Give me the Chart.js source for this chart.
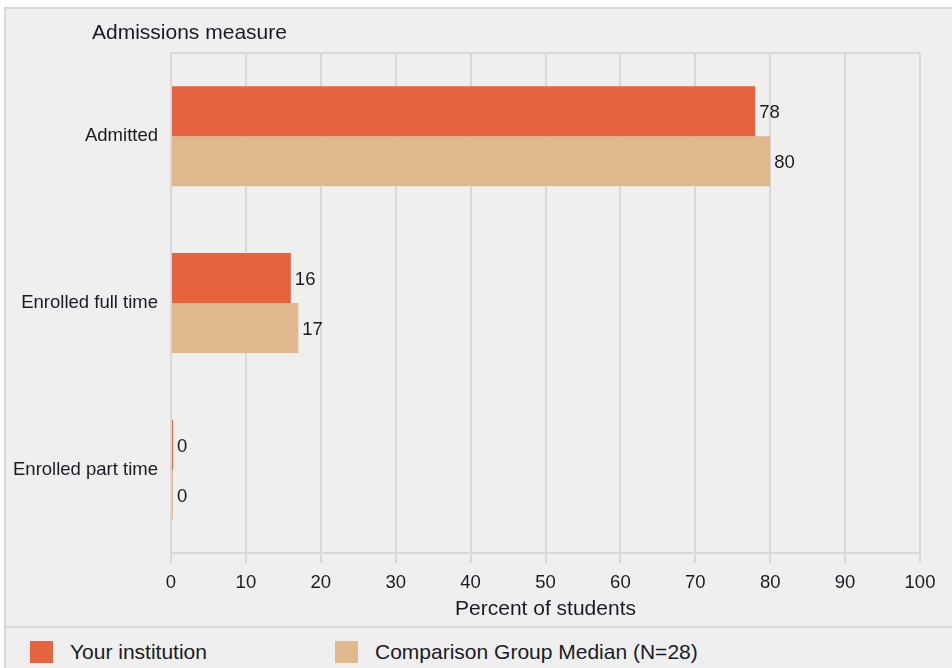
<!DOCTYPE html>
<html>
<head>
<meta charset="utf-8">
<script src="https://cdn.jsdelivr.net/npm/chart.js@4.4.1/dist/chart.umd.min.js"></script>
<style>
  body { margin: 0; background: #ffffff; font-family: "Liberation Sans", Arial, sans-serif; }
  #frame {
    position: absolute; left: 4px; top: 7px; width: 960px; height: 670px;
    background: #efefef; border: 2px solid #d9d9d9; box-sizing: border-box;
  }
  #chartWrap { position: absolute; left: 0; top: 0; width: 952px; height: 627px; }
  #sep { position: absolute; left: 4px; top: 626px; width: 960px; height: 2px; background: #d9d9d9; }
  .legend-item { position: absolute; top: 641px; height: 22px; display: flex; align-items: center; }
  .legend-box { width: 23px; height: 22px; margin-right: 17px; }
  .legend-text { font-size: 21px; color: #1a1a24; white-space: nowrap; }
</style>
</head>
<body>
<div id="frame"></div>
<div id="chartWrap"><canvas id="myChart" width="952" height="627"></canvas></div>
<div id="sep"></div>
<div class="legend-item" style="left:30px"><div class="legend-box" style="background:#e5633f"></div><span class="legend-text">Your institution</span></div>
<div class="legend-item" style="left:335px"><div class="legend-box" style="background:#dfb98b"></div><span class="legend-text">Comparison Group Median (N=28)</span></div>
<script>
var categories = ['Admitted', 'Enrolled full time', 'Enrolled part time'];
var seriesNames = ['Your institution', 'Comparison Group Median (N=28)'];
var institutionValues = [78, 16, 0];
var comparisonValues = [80, 17, 0];
var xTicks = [0, 10, 20, 30, 40, 50, 60, 70, 80, 90, 100];

var textColor = '#1a1a24';
var gridColor = '#d9d9d9';
var fontFamily = '"Liberation Sans", Arial, sans-serif';

// value labels next to each bar
var valueLabels = {
    id: 'valueLabels',
    afterDatasetsDraw: function(chart) {
        var ctx = chart.ctx;
        ctx.save();
        ctx.font = '18.5px ' + fontFamily;
        ctx.fillStyle = textColor;
        ctx.textAlign = 'left';
        ctx.textBaseline = 'middle';
        chart.data.datasets.forEach(function(ds, i) {
            chart.getDatasetMeta(i).data.forEach(function(bar, j) {
                ctx.fillText(ds.data[j], bar.x + 4, bar.y + 2);
            });
        });
        ctx.restore();
    }
};

// top frame line and y axis title above the plot
var plotFrame = {
    id: 'plotFrame',
    beforeDatasetsDraw: function(chart) {
        var a = chart.chartArea;
        var ctx = chart.ctx;
        ctx.save();
        ctx.strokeStyle = gridColor;
        ctx.lineWidth = 2;
        ctx.beginPath();
        ctx.moveTo(a.left, a.top);
        ctx.lineTo(a.right, a.top);
        ctx.stroke();
        ctx.restore();
    },
    afterDraw: function(chart) {
        var ctx = chart.ctx;
        ctx.save();
        ctx.font = '21px ' + fontFamily;
        ctx.fillStyle = textColor;
        ctx.textBaseline = 'middle';
        ctx.fillText('Admissions measure', chart.chartArea.left - 79, 33);
        ctx.restore();
    }
};

var ctx = document.getElementById('myChart').getContext('2d');
var myChart = new Chart(ctx, {
    type: 'bar',
    data: {
        labels: categories,
        datasets: [{
            label: seriesNames[0],
            data: institutionValues,
            backgroundColor: '#e5633f',
            borderWidth: 0,
            minBarLength: 2
        }, {
            label: seriesNames[1],
            data: comparisonValues,
            backgroundColor: '#dfb98b',
            borderWidth: 0,
            minBarLength: 2
        }]
    },
    options: {
        indexAxis: 'y',
        responsive: false,
        animation: false,
        categoryPercentage: 0.6,
        barPercentage: 1.0,
        layout: { padding: { left: 0, right: 32, top: 53, bottom: 0 } },
        plugins: {
            legend: { display: false },
            tooltip: { enabled: false }
        },
        scales: {
            x: {
                min: 0,
                max: 100,
                afterBuildTicks: function(scale) {
                    scale.ticks = xTicks.map(function(v) { return { value: v }; });
                },
                afterFit: function(scale) { scale.height = 74; },
                grid: { color: gridColor, lineWidth: 2, tickLength: 10, drawTicks: true },
                border: { display: true, color: gridColor, width: 2 },
                ticks: { color: textColor, font: { size: 18.5, family: fontFamily }, padding: 9, maxRotation: 0 },
                title: {
                    display: true,
                    text: 'Percent of students',
                    color: textColor,
                    font: { size: 21, family: fontFamily },
                    padding: { top: 0, bottom: 5 }
                }
            },
            y: {
                afterFit: function(scale) { scale.width = 171; },
                grid: { display: false, drawTicks: false },
                border: { display: true, color: gridColor, width: 2 },
                ticks: { color: textColor, font: { size: 18.5, family: fontFamily }, padding: 13 }
            }
        }
    },
    plugins: [valueLabels, plotFrame]
});
</script>
</body>
</html>
